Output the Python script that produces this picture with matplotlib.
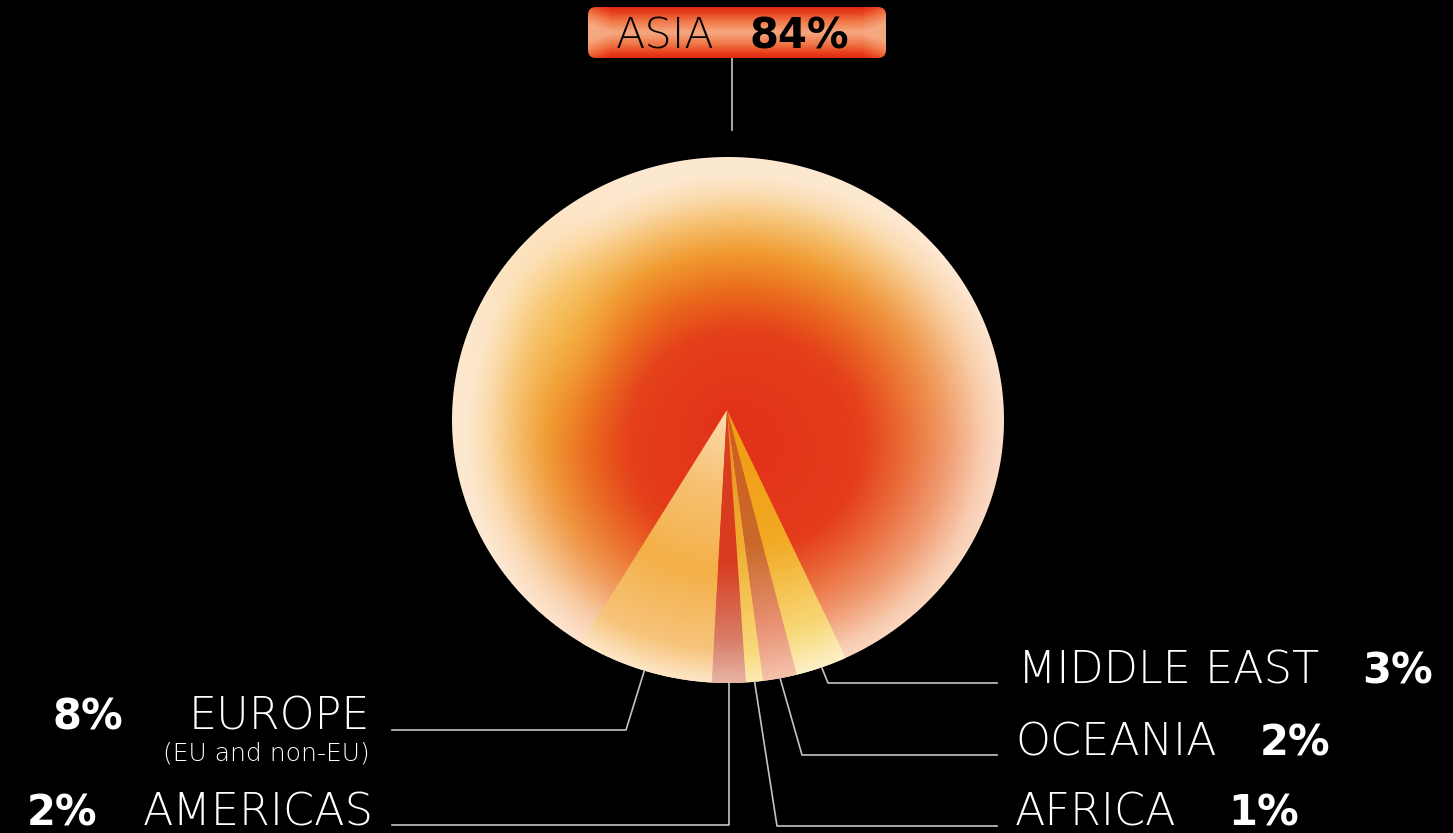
#!/usr/bin/env python3
"""world share pie drawn as a glowing sphere"""

import matplotlib.pyplot as plt
import numpy as np
from matplotlib.colors import LinearSegmentedColormap
from matplotlib.patches import FancyBboxPatch

regions = ["EUROPE", "AMERICAS", "AFRICA", "OCEANIA", "MIDDLE EAST", "ASIA"]
shares = [8, 2, 1, 2, 3, 84]
share_labels = ["8%", "2%", "1%", "2%", "3%", "84%"]
europe_note = "(EU and non-EU)"

W, H = 1453, 833
CX, CY, RX, RY = 728, 420, 276, 263  # sphere ellipse in pixels
APEX = (727, 410)                    # pie centre
LINE = "#c4c4c4"
THIN = dict(family=["DejaVu Sans"], weight=200)
BOLD = dict(family=["DejaVu Sans"], weight="bold")


def ramp(stops):
    return LinearSegmentedColormap.from_list("", stops)


# one colour ramp per wedge, running from the apex to the rim
wedge_ramps = [
    ramp([(0, "#fbdcb0"), (0.3, "#f7c070"), (0.6, "#f4b048"), (0.88, "#f7c47c"), (1, "#fde6c6")]),
    ramp([(0, "#d84020"), (0.55, "#d83a1e"), (0.85, "#d8806a"), (1, "#e8b4a4")]),
    ramp([(0, "#e88a20"), (0.5, "#f0ae30"), (0.88, "#f8d878"), (1, "#fdeab4")]),
    ramp([(0, "#d05a22"), (0.5, "#c86a2a"), (0.8, "#e89072"), (1, "#f4c2aa")]),
    ramp([(0, "#f09c10"), (0.5, "#f2a822"), (0.85, "#f8d878"), (1, "#fdf0c4")]),
    None,
]
# warm (upper left) and salmon (right / lower) versions of the sphere shading
sphere_warm = ramp([(0, "#e2301a"), (0.4, "#e4401a"), (0.55, "#ea6a1c"), (0.7, "#f09a30"),
                    (0.82, "#f6c070"), (0.92, "#fbdcb0"), (1, "#fde8d0")])
sphere_salmon = ramp([(0, "#e2301a"), (0.45, "#e43a1c"), (0.6, "#ea6a3a"), (0.75, "#f09a70"),
                      (0.88, "#f8ccb0"), (1, "#fde6d6")])


def main():
    fig = plt.figure(figsize=(W / 100, H / 100), dpi=100, facecolor="black")
    ax = fig.add_axes([0, 0, 1, 1])
    ax.set_facecolor("black")

    # y axis runs downward, so angles are mirrored: start left of straight down
    wedges, _ = ax.pie(shares, startangle=122, counterclock=False, center=APEX,
                       radius=330, wedgeprops=dict(facecolor="none", edgecolor="none"))
    ax.set_xlim(0, W)
    ax.set_ylim(H, 0)
    ax.set_aspect("auto")
    ax.axis("off")

    # pixel grid over the sphere
    x0, x1, y0, y1 = CX - RX - 2, CX + RX + 2, CY - RY - 2, CY + RY + 2
    X, Y = np.meshgrid(np.arange(x0, x1) + 0.5, np.arange(y0, y1) + 0.5)
    rn = np.hypot((X - CX) / RX, (Y - CY) / RY)
    alpha = np.clip((1 - rn) * RX + 0.5, 0, 1)
    ext = (x0, x1, y1, y0)

    rc = np.hypot((X - 755) / RX, (Y - 455) / RY)
    t = np.clip(0.55 * rn + 0.45 * rc, 0, 1)
    s = np.clip((Y - CY) / RY * 0.9 + (X - CX) / RX * 0.6 + 0.35, 0, 1)[..., None]
    rgb = sphere_warm(t)[..., :3] * (1 - s) + sphere_salmon(t)[..., :3] * s
    glow = np.exp(-(((X - 560) / 55) ** 2 + ((Y - 318) / 80) ** 2))[..., None]
    rgb = rgb * (1 - 0.45 * glow) + np.array([0.97, 0.76, 0.32]) * 0.45 * glow
    img = np.dstack([rgb, alpha])
    ax.imshow(img, extent=ext, origin="upper", interpolation="bilinear", zorder=1)

    d = np.clip(np.hypot(X - APEX[0], Y - APEX[1]) / 273, 0, 1)
    for w, cm in zip(wedges, wedge_ramps):
        if cm is None:
            continue
        wimg = cm(d)
        wimg[..., 3] = alpha
        im = ax.imshow(wimg, extent=ext, origin="upper", interpolation="bilinear", zorder=2)
        im.set_clip_path(w)

    # leader anchors on the rim at each wedge's middle angle
    anchors = []
    for w in wedges:
        a = np.deg2rad((w.theta1 + w.theta2) / 2)
        ux, uy = np.cos(a), np.sin(a)
        r = np.linspace(0, 400, 4001)
        px, py = APEX[0] + r * ux, APEX[1] + r * uy
        k = np.argmax(np.hypot((px - CX) / RX, (py - CY) / RY) > 1)
        anchors.append((px[k], py[k]))

    # left side labels
    ex, ey = anchors[0]
    ax.plot([392, 626, ex], [730, 730, ey], color=LINE, lw=1.2, zorder=3)
    ax.text(370, 730, regions[0], color="white", fontsize=32, ha="right", va="baseline", **THIN)
    ax.text(123, 730, share_labels[0], color="white", fontsize=30, ha="right", va="baseline", **BOLD)
    ax.text(370, 760, europe_note, color="white", fontsize=18, ha="right", va="baseline", **THIN)

    ax_, ay_ = anchors[1]
    ax.plot([392, ax_, ax_], [825, 825, ay_], color=LINE, lw=1.2, zorder=3)
    ax.text(374, 826, regions[1], color="white", fontsize=32, ha="right", va="baseline", **THIN)
    ax.text(97, 826, share_labels[1], color="white", fontsize=30, ha="right", va="baseline", **BOLD)

    # right side labels: (index, elbow x, elbow y, text x, number x)
    right = [(4, 828, 683, 1018, 1362), (3, 802, 755, 1015, 1260), (2, 777, 826, 1015, 1228)]
    for i, bx, by, tx, nx in right:
        px, py = anchors[i]
        ax.plot([px, bx, 997], [py, by, by], color=LINE, lw=1.2, zorder=3)
        ax.text(tx, by, regions[i], color="white", fontsize=32, ha="left", va="baseline", **THIN)
        ax.text(nx, by, share_labels[i], color="white", fontsize=30, ha="left", va="baseline", **BOLD)

    # Asia tag on top
    ax.plot([732, 732], [58, 130], color=LINE, lw=1.2, zorder=3)
    box = FancyBboxPatch((588, 7), 298, 51, boxstyle="round,pad=0,rounding_size=8",
                         facecolor="none", edgecolor="none")
    ax.add_patch(box)
    bX, bY = np.meshgrid(np.linspace(0, 1, 300), np.linspace(0, 1, 52))
    v = np.abs(bY - 0.5) * 2
    ends = np.clip(1 - np.minimum(bX, 1 - bX) / 0.08, 0, 1)
    tag_cm = ramp([(0, "#f5a880"), (0.45, "#f07848"), (0.8, "#e8401c"), (1, "#e02a14")])
    tag = tag_cm(np.clip(v - 0.35 * ends, 0, 1))
    im = ax.imshow(tag, extent=(588, 886, 58, 7), origin="upper", interpolation="bilinear", zorder=4)
    im.set_clip_path(box)
    ax.text(616, 48, regions[5], color="black", fontsize=31, ha="left", va="baseline", zorder=5, **THIN)
    ax.text(750, 48, share_labels[5], color="black", fontsize=30, ha="left", va="baseline", zorder=5, **BOLD)

    fig.savefig("out.png", dpi=100, facecolor="black")


if __name__ == "__main__":
    main()
